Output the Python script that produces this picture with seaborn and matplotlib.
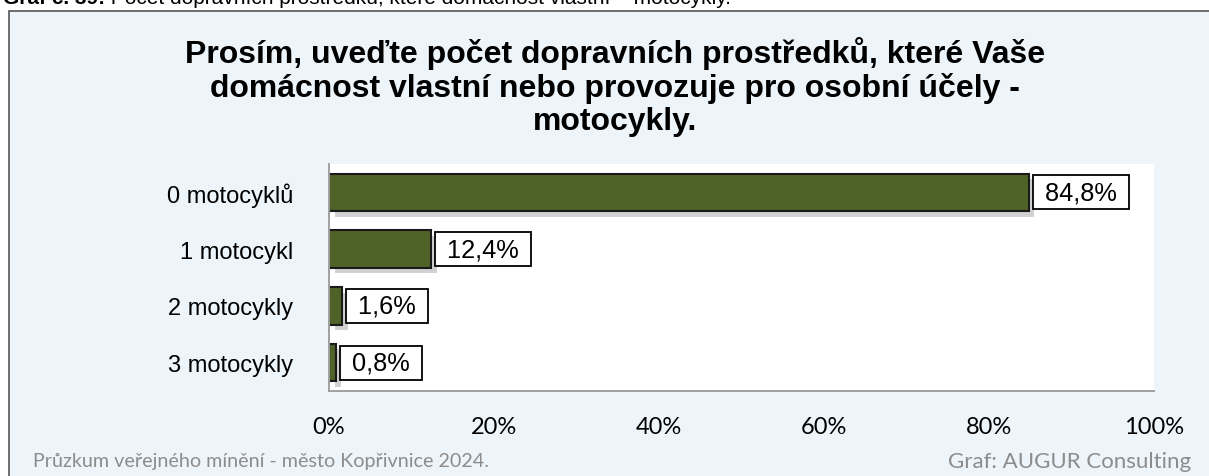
import matplotlib
matplotlib.use("Agg")
import matplotlib.pyplot as plt
import matplotlib.patheffects as pe
from matplotlib.patches import Rectangle
from matplotlib.ticker import FixedLocator
import seaborn as sns
import pandas as pd

categories = ["0 motocyklů", "1 motocykl", "2 motocykly", "3 motocykly"]
values = [84.8, 12.4, 1.6, 0.8]
value_labels = ["84,8%", "12,4%", "1,6%", "0,8%"]
xticks = [0, 20, 40, 60, 80, 100]
xtick_labels = ["0%", "20%", "40%", "60%", "80%", "100%"]
title = ("Prosím, uveďte počet dopravních prostředků, které Vaše\n"
         "domácnost vlastní nebo provozuje pro osobní účely -\n"
         "motocykly.")
caption_bold = "Graf č. 39:"
caption_rest = " Počet dopravních prostředků, které domácnost vlastní – motocykly."
footer_left = "Průzkum veřejného mínění - město Kopřivnice 2024."
footer_right = "Graf: AUGUR Consulting"

df = pd.DataFrame({"cat": categories, "val": values})

sns.set_style("white")
plt.rcParams["font.family"] = ["Liberation Sans", "DejaVu Sans"]

W, H = 1209, 477
fig = plt.figure(figsize=(W / 100, H / 100), dpi=100)
fig.patch.set_facecolor("white")

# chart frame with light blue background
frame = Rectangle((9 / W, -0.1), 1.2, (H - 12) / H + 0.1, transform=fig.transFigure,
                  facecolor="#EEF5FA", edgecolor="#555555", linewidth=1.2, zorder=-5)
fig.patches.append(frame)

# cut-off caption at the very top (only the lower part of the letters is visible)
cap_y = 1 - 3.5 / H
t1 = fig.text(3 / W, cap_y, caption_bold, ha="left", va="baseline", fontsize=15,
              fontweight="bold", color="black")
fig.canvas.draw()
x_end = t1.get_window_extent(renderer=fig.canvas.get_renderer()).x1
fig.text(x_end / W, cap_y, caption_rest, ha="left", va="baseline", fontsize=15, color="black")

ax = fig.add_axes([329 / W, 85 / H, 825 / W, 227 / H])
ax.set_zorder(2)
ax.set_facecolor("white")

sns.barplot(data=df, y="cat", x="val", orient="h", ax=ax, color="#4F6228",
            width=0.66, edgecolor="#1a1a1a", linewidth=1.5, saturation=1)

for p in ax.patches:
    p.set_path_effects([pe.SimplePatchShadow(offset=(4, -4), shadow_rgbFace="#000000", alpha=0.18),
                        pe.Normal()])

for i, (v, lab) in enumerate(zip(values, value_labels)):
    ax.text(v + 1.1, i, " " + lab + " ", ha="left", va="center", fontsize=18.3, color="black",
            bbox=dict(boxstyle="square,pad=0.2", facecolor="white", edgecolor="black", linewidth=1.3))

ax.set_xlim(0, 100)
ax.set_ylim(3.5, -0.5)
ax.set_xticks(xticks)
ax.set_xticklabels(xtick_labels, family=["Lato", "DejaVu Sans"], fontsize=17, color="black")
ax.set_yticks(range(len(categories)))
ax.set_yticklabels(categories, fontsize=17, color="black")
ax.yaxis.set_minor_locator(FixedLocator([-0.5, 0.5, 1.5, 2.5, 3.5]))
ax.tick_params(axis="y", which="major", length=0, pad=26)
ax.tick_params(axis="y", which="minor", length=7, color="#999999", width=1.2, direction="out")
ax.tick_params(axis="x", which="major", length=8, color="#999999", width=1.2, direction="out", pad=10)
ax.set_xlabel("")
ax.set_ylabel("")
for s in ["top", "right"]:
    ax.spines[s].set_visible(False)
for s in ["left", "bottom"]:
    ax.spines[s].set_color("#A0A0A0")
    ax.spines[s].set_linewidth(1.4)

fig.text(615 / W, 1 - 87 / H, title, ha="center", va="center", fontsize=23,
         fontweight="bold", linespacing=1.12, color="black")

fig.text(33 / W, 1 - 462 / H, footer_left, ha="left", va="center", fontsize=14.2,
         color="#8C8C8C", family=["Lato", "DejaVu Sans"])
fig.text(1191 / W, 1 - 462 / H, footer_right, ha="right", va="center", fontsize=16,
         color="#8C8C8C", family=["Lato", "DejaVu Sans"])

fig.savefig("out.png", dpi=100)
